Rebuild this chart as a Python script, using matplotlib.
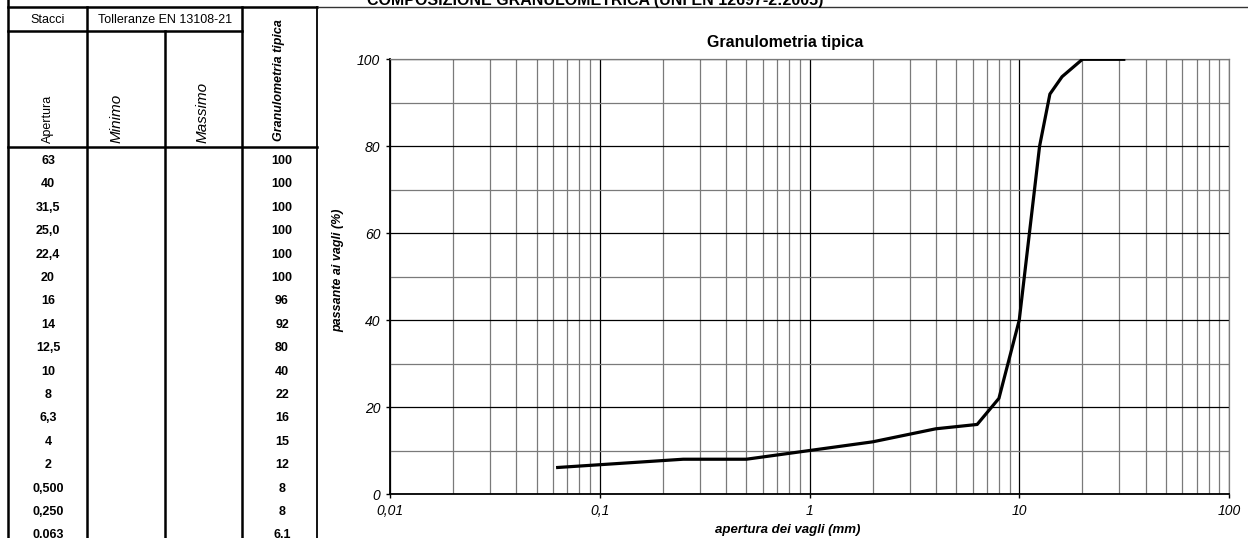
import matplotlib
matplotlib.use("Agg")
import matplotlib.pyplot as plt
from matplotlib.ticker import FixedLocator, FuncFormatter

plt.rcParams['font.family'] = ['Liberation Sans', 'DejaVu Sans']

# table data (sieve openings in mm, passing %)
apertura = [63, 40, 31.5, 25.0, 22.4, 20, 16, 14, 12.5, 10, 8, 6.3, 4, 2, 0.5, 0.25, 0.063]
apertura_labels = ["63", "40", "31,5", "25,0", "22,4", "20", "16", "14", "12,5", "10",
                   "8", "6,3", "4", "2", "0,500", "0,250", "0,063"]
passante = [100, 100, 100, 100, 100, 100, 96, 92, 80, 40, 22, 16, 15, 12, 8, 8, 6.1]

x_ticks = [0.01, 0.1, 1, 10, 100]
x_tick_labels = ["0,01", "0,1", "1", "10", "100"]
y_ticks = [0, 20, 40, 60, 80, 100]

W, H = 1248, 538
fig = plt.figure(figsize=(W / 100, H / 100), dpi=100)

# overlay in pixel coords for the table and frame
tab = fig.add_axes([0, 0, 1, 1])
tab.set_xlim(0, W)
tab.set_ylim(H, 0)
tab.axis('off')

lw_t = 1.8
k = 'black'
tab.plot([8, 8], [0, H], color=k, lw=lw_t)
tab.plot([8, 317], [7, 7], color=k, lw=lw_t)
tab.plot([317, W], [7, 7], color='#333333', lw=1.0)
tab.plot([8, 242], [31, 31], color=k, lw=lw_t)
tab.plot([8, 317], [147, 147], color=k, lw=lw_t)
tab.plot([87, 87], [7, H], color=k, lw=lw_t)
tab.plot([165, 165], [31, H], color=k, lw=lw_t)
tab.plot([242, 242], [7, H], color=k, lw=lw_t)
tab.plot([317, 317], [7, H], color=k, lw=1.3)

tab.text(48, 20, "Stacci", ha='center', va='center', fontsize=9)
tab.text(165, 20, "Tolleranze EN 13108-21", ha='center', va='center', fontsize=9)
tab.text(48, 143, "Apertura", rotation=90, ha='center', va='bottom', fontsize=9)
tab.text(117, 143, "Minimo", rotation=90, ha='center', va='bottom', fontsize=11, style='italic')
tab.text(203, 143, "Massimo", rotation=90, ha='center', va='bottom', fontsize=11, style='italic')
tab.text(279, 141, "Granulometria tipica", rotation=90, ha='center', va='bottom',
         fontsize=9, style='italic', fontweight='bold')

for i, (lab, p) in enumerate(zip(apertura_labels, passante)):
    y = 161 + i * 23.4
    tab.text(48, y, lab, ha='center', va='center', fontsize=9, fontweight='bold')
    tab.text(282, y, ("%g" % p).replace('.', ','), ha='center', va='center',
             fontsize=9, fontweight='bold')

# cut-off sheet title and chart title
tab.text(595, 5, "COMPOSIZIONE GRANULOMETRICA (UNI EN 12697-2:2005)", ha='center',
         va='baseline', fontsize=11.5, fontweight='bold')
tab.text(785, 42, "Granulometria tipica", ha='center', va='center',
         fontsize=11.5, fontweight='bold')

# chart
ax = fig.add_axes([390 / W, (H - 494) / H, (1229 - 390) / W, (494 - 59.3) / H])
ax.patch.set_alpha(0)
ax.set_xscale('log')
ax.set_xlim(0.01, 100)
ax.set_ylim(0, 100)

# series covers the sieves up to 31,5 only
ax.plot(apertura[2:], passante[2:], color='black', lw=2.3, zorder=3)

ax.xaxis.set_major_locator(FixedLocator(x_ticks))
ax.xaxis.set_major_formatter(FuncFormatter(lambda v, pos: x_tick_labels[x_ticks.index(v)] if v in x_ticks else ""))
ax.set_yticks(y_ticks)
ax.set_yticks(range(0, 101, 10), minor=True)

ax.grid(which='major', color='black', lw=0.9)
ax.grid(which='minor', color='#7a7a7a', lw=0.9)
ax.set_axisbelow(True)

for s in ['top', 'right']:
    ax.spines[s].set_color('#7a7a7a')
    ax.spines[s].set_linewidth(0.9)
for s in ['left', 'bottom']:
    ax.spines[s].set_linewidth(1.3)

ax.tick_params(which='major', direction='out', length=3, width=1, labelsize=10, pad=4)
ax.tick_params(which='minor', length=0)
for lab in ax.get_xticklabels() + ax.get_yticklabels():
    lab.set_fontstyle('italic')

tab.text(788, 530, "apertura dei vagli (mm)", ha='center', va='center',
         fontsize=9.5, fontweight='bold', style='italic')
tab.text(338, 270, "passante ai vagli (%)", rotation=90, ha='center', va='center',
         fontsize=9, fontweight='bold', style='italic')

fig.savefig("out.png", dpi=100)
